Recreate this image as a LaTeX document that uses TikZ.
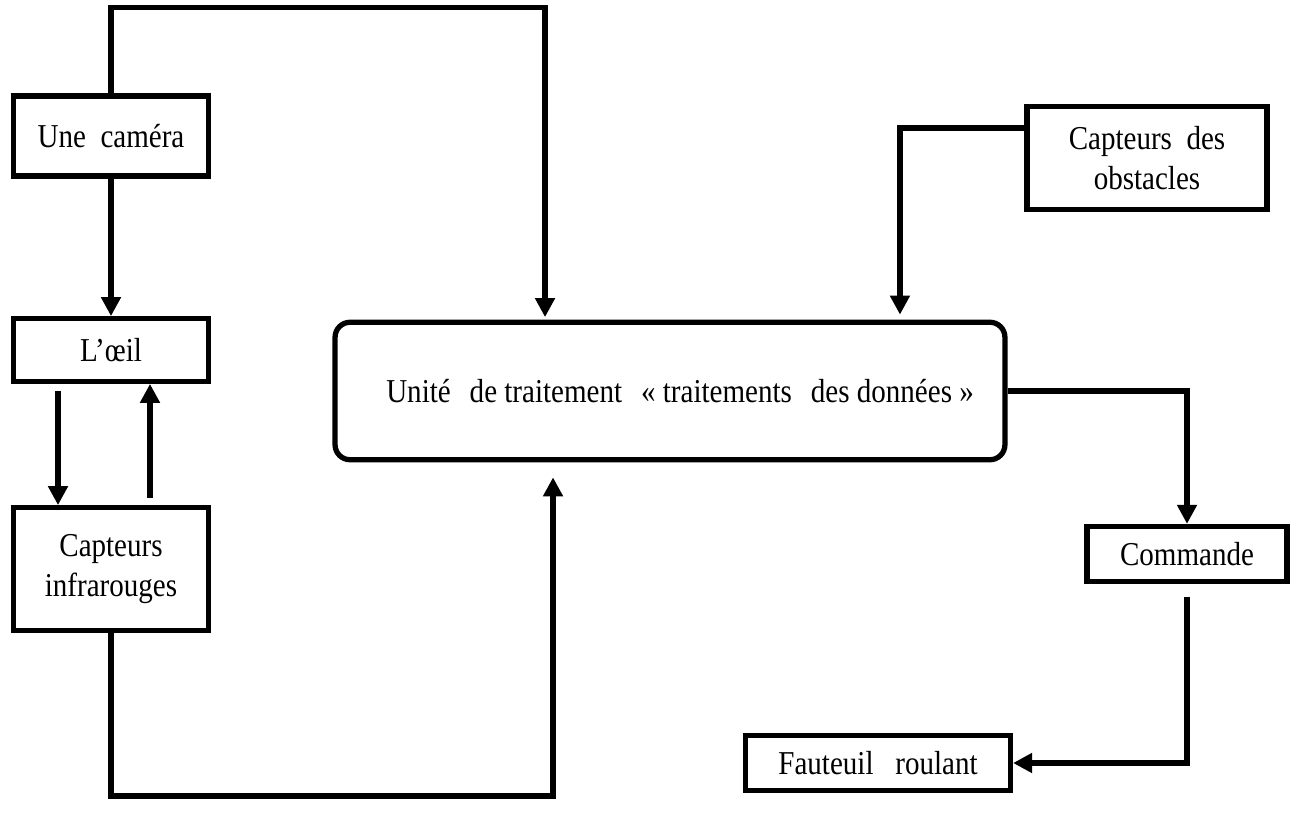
\documentclass[tikz,border=0pt]{standalone}
\usepackage{fontspec}
\setmainfont[FakeStretch=0.87]{Liberation Serif}
\usetikzlibrary{arrows.meta, positioning, calc}

\begin{document}
\begin{tikzpicture}[
  x=0.02cm, y=-0.02cm,
  box/.style={draw, line width=3pt, minimum width=3.9cm, minimum height=1.2cm, inner sep=2pt, font=\fontsize{19}{23}\selectfont, align=center},
  ubox/.style={box, rounded corners=0.3cm, minimum width=13.4cm, minimum height=2.75cm},
  arr/.style={-{Triangle[length=0.38cm, width=0.38cm]}, line width=3pt},
]
\useasboundingbox (0,0) rectangle (1301,817);

% Left side: sensors
\node[box, minimum height=1.6cm] (cam) at (111,136) {Une~ caméra};
\node[box, minimum height=1.25cm] (oeil) at (111,350) {L’œil};
\node[box, minimum height=2.45cm] (ir) at (111,569) {Capteurs\\infrarouges};

% Centre: processing unit
\node[ubox] (unit) at (670,391) {\hspace{0.6em}Unité\hspace{0.35em} de traitement\hspace{0.35em} « traitements\hspace{0.35em} des données »};

% Right side
\node[box, minimum width=4.8cm, minimum height=2.05cm] (obst) at (1147,158) {Capteurs~ des\\obstacles};
\node[box, minimum width=4cm, minimum height=1.1cm] (cmd) at (1187,554) {Commande};
\node[box, minimum width=5.3cm, minimum height=1.1cm] (fau) at (878,763) {Fauteuil~~ roulant};

\draw[arr] (cam.north) -- ++(0,-86) -| ([xshift=-2.5cm, yshift=0.05cm]unit.north);
\draw[arr] (cam) -- (oeil);
\draw[arr] ([xshift=-1.06cm, yshift=-0.15cm]oeil.south) -- ([xshift=-1.06cm]ir.north);
\draw[arr] ([xshift=0.78cm, yshift=0.15cm]ir.north) -- ([xshift=0.78cm]oeil.south);
\draw[arr] (ir.south) -- ++(0,163) -| ([xshift=-2.34cm, yshift=-0.3cm]unit.south);
\draw[arr] ([yshift=0.6cm]obst.west) -| ([xshift=4.6cm, yshift=0.1cm]unit.north);
\draw[arr] (unit.east) -| (cmd.north);
\draw[arr] ([yshift=-0.25cm]cmd.south) |- (fau.east);

\end{tikzpicture}
\end{document}
